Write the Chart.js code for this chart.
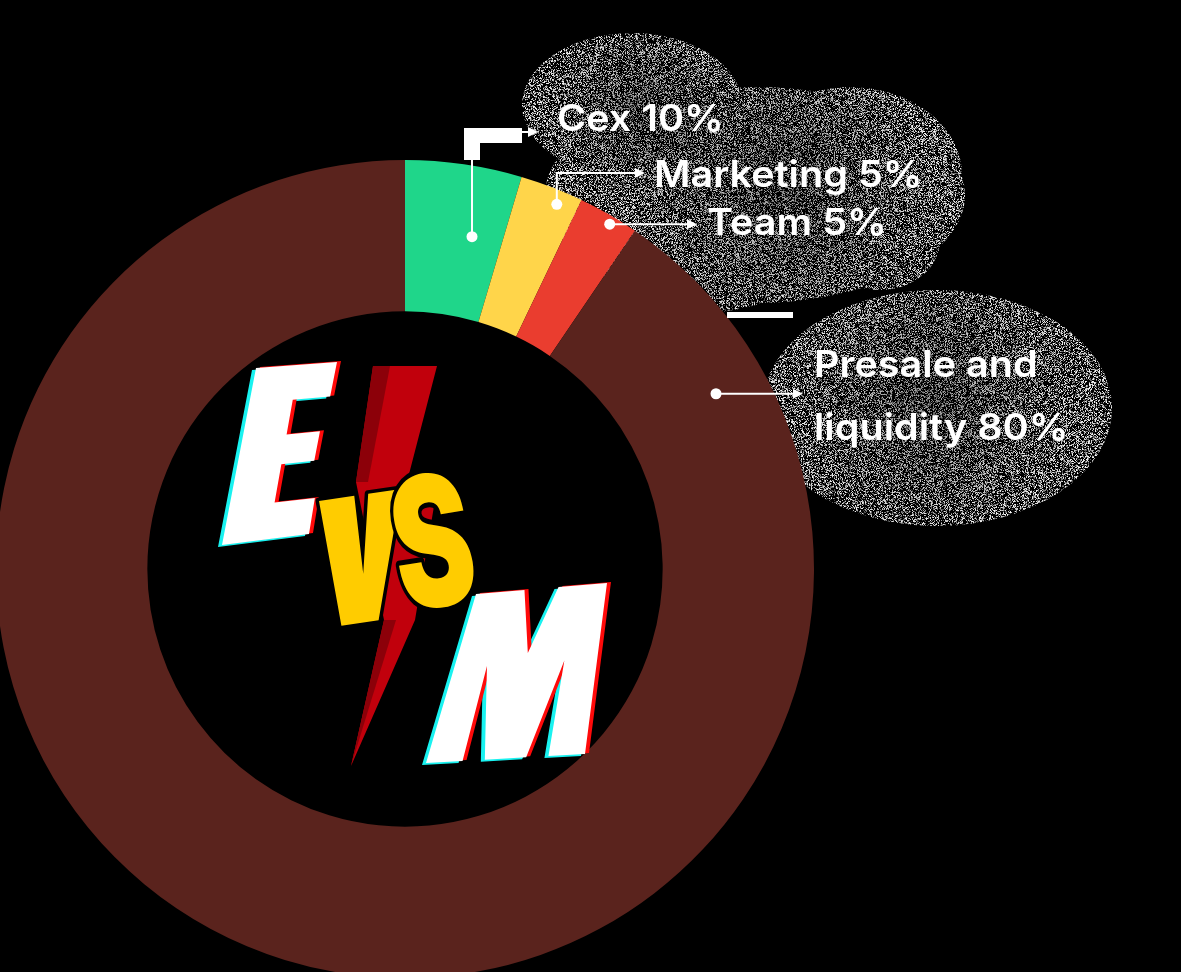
<!DOCTYPE html>
<html><head><meta charset="utf-8">
<script src="https://cdn.jsdelivr.net/npm/chart.js@4/dist/chart.umd.min.js"></script>
<style>html,body{margin:0;padding:0;background:#000;overflow:hidden;}canvas{display:block;}</style>
</head><body>
<canvas id="c" width="1181" height="972"></canvas>
<script>
// ---- data ----
const categories = ['Cex', 'Marketing', 'Team', 'Presale and liquidity'];
const labelPercents = ['10%', '5%', '5%', '80%'];
const sliceShares = [4.6, 2.5, 2.4, 90.5];          // share of the ring each slice occupies (%)
const sliceColors = ['#1FD68A', '#FFD54A', '#EA3D2F', '#5A231D'];

// ---- annotation layout (polar anchor on the ring, elbow, arrow tip, text) ----
const annAngle = [11.4, 22.6, 30.7, 60.6];            // degrees clockwise from top
const annRadius = [339, 395, 401, 357];
const annElbowY = [132, 173, null, null];
const annTipX = [538, 645, 697, 803];
const annTextX = [557, 654, 707, 814];
const annBaseY = [[131], [187], [235], [377, 440]];
const annLines = [
  [categories[0] + ' ' + labelPercents[0]],
  [categories[1] + ' ' + labelPercents[1]],
  [categories[2] + ' ' + labelPercents[2]],
  ['Presale and', 'liquidity ' + labelPercents[3]]
];

function hash(x, y) {
  let n = (Math.imul(x, 374761393) + Math.imul(y, 668265263)) | 0;
  n = Math.imul(n ^ (n >>> 13), 1274126177);
  n = n ^ (n >>> 16);
  return (n >>> 0) / 4294967296;
}

function makeNoise(x0, y0, w, h) {
  const cv = document.createElement('canvas');
  cv.width = w; cv.height = h;
  const c = cv.getContext('2d');
  const img = c.createImageData(w, h);
  for (let y = 0; y < h; y++) for (let x = 0; x < w; x++) {
    const p = hash(x + x0, y + y0), q = hash(y + 7919, x + 104729);
    let v;
    if (p < 0.50) v = 0;
    else if (p < 0.74) v = 60 + Math.floor(q * 90);
    else v = 175 + Math.floor(q * 80);
    const i = (y * w + x) * 4;
    img.data[i] = img.data[i + 1] = img.data[i + 2] = v; img.data[i + 3] = 255;
  }
  c.putImageData(img, 0, 0);
  return cv;
}

const clouds = [
  [632, 105, 110, 72],
  [755, 195, 210, 108],
  [850, 175, 112, 88],
  [880, 240, 60, 50],
  [700, 265, 100, 48],
  [937, 408, 175, 118]
];
const cloudShade = [[640, 110, 90], [780, 190, 150], [930, 400, 140]];

const bgPlugin = {
  id: 'bg',
  beforeDraw(chart) {
    const ctx = chart.ctx;
    ctx.save();
    ctx.fillStyle = '#000';
    ctx.fillRect(0, 0, chart.width, chart.height);
    const nx = 510, ny = 28;
    const noise = makeNoise(nx, ny, 610, 510);
    ctx.beginPath();
    clouds.forEach(([cx, cy, rx, ry]) => { ctx.moveTo(cx + rx, cy); ctx.ellipse(cx, cy, rx, ry, 0, 0, Math.PI * 2); });
    ctx.clip();
    ctx.drawImage(noise, nx, ny);
    cloudShade.forEach(([x, y, r]) => {
      const g = ctx.createRadialGradient(x, y, 0, x, y, r);
      g.addColorStop(0, 'rgba(0,0,0,0.35)');
      g.addColorStop(1, 'rgba(0,0,0,0)');
      ctx.fillStyle = g;
      ctx.fillRect(x - r, y - r, 2 * r, 2 * r);
    });
    ctx.restore();
  }
};

function quadMap(q, u, v) {
  const bx = q.bl[0] + (q.br[0] - q.bl[0]) * u, by = q.bl[1] + (q.br[1] - q.bl[1]) * u;
  const tx = q.tl[0] + (q.tr[0] - q.tl[0]) * u, ty = q.tl[1] + (q.tr[1] - q.tl[1]) * u;
  return [bx + (tx - bx) * v, by + (ty - by) * v];
}
function polyPath(ctx, q, pts, dx, dy) {
  ctx.beginPath();
  pts.forEach(([u, v], i) => {
    const [x, y] = quadMap(q, u, v);
    if (i === 0) ctx.moveTo(x + dx, y + dy); else ctx.lineTo(x + dx, y + dy);
  });
  ctx.closePath();
}
function glitchLetter(ctx, q, pts) {
  polyPath(ctx, q, pts, -4, 2); ctx.fillStyle = '#19F2F0'; ctx.fill();
  polyPath(ctx, q, pts, 4, -1); ctx.fillStyle = '#FF0A0A'; ctx.fill();
  polyPath(ctx, q, pts, 0, 0); ctx.fillStyle = '#FFFFFF'; ctx.fill();
}

const E_PTS = [[0,0],[0,1],[1,1],[0.985,0.8],[0.53,0.8],[0.53,0.6],[0.93,0.6],[0.92,0.43],[0.53,0.43],[0.53,0.21],[1,0.21],[1,0]];
const M_PTS = [[0,0],[0,1],[0.37,1],[0.5,0.62],[0.63,1],[1,1],[1,0],[0.77,0],[0.77,0.56],[0.63,0],[0.37,0],[0.23,0.56],[0.23,0]];
const V_PTS = [[0.14,0],[0,1],[0.43,1],[0.52,0.38],[0.6,1],[1,1],[0.76,0]];

function drawLogo(ctx) {
  ctx.save();
  ctx.fillStyle = '#C1000C';
  ctx.beginPath();
  ctx.moveTo(373, 366); ctx.lineTo(437, 366); ctx.lineTo(408, 478); ctx.lineTo(440, 470);
  ctx.lineTo(415, 620); ctx.lineTo(351, 766); ctx.lineTo(384, 620); ctx.lineTo(356, 482);
  ctx.closePath(); ctx.fill();
  ctx.fillStyle = '#8C0009';
  ctx.beginPath();
  ctx.moveTo(373, 366); ctx.lineTo(390, 366); ctx.lineTo(368, 482); ctx.lineTo(356, 482); ctx.closePath(); ctx.fill();
  ctx.beginPath();
  ctx.moveTo(384, 620); ctx.lineTo(396, 620); ctx.lineTo(351, 766); ctx.closePath(); ctx.fill();

  glitchLetter(ctx, {bl: [222, 545], br: [309, 534], tl: [256, 368], tr: [337, 362]}, E_PTS);
  const vq = {bl: [333, 627], br: [393, 618], tl: [319, 501], tr: [401, 489]};
  polyPath(ctx, vq, V_PTS, 0, 0);
  ctx.lineJoin = 'round'; ctx.lineWidth = 7; ctx.strokeStyle = '#000'; ctx.stroke();
  ctx.fillStyle = '#FFCC00'; ctx.fill();
  ctx.save();
  ctx.translate(433, 546);
  ctx.rotate(-9 * Math.PI / 180);
  ctx.scale(0.66, 1);
  ctx.font = '900 182px Inter, "DejaVu Sans", sans-serif';
  ctx.textAlign = 'center'; ctx.textBaseline = 'middle';
  ctx.lineWidth = 10; ctx.strokeStyle = '#000'; ctx.lineJoin = 'round';
  ctx.strokeText('S', 0, 6);
  ctx.fillStyle = '#FFCC00';
  ctx.fillText('S', 0, 6);
  ctx.restore();
  glitchLetter(ctx, {bl: [426, 763], br: [585, 754], tl: [476, 594], tr: [607, 583]}, M_PTS);
  ctx.restore();
}

const annPlugin = {
  id: 'ann',
  afterDraw(chart) {
    const ctx = chart.ctx;
    const arc = chart.getDatasetMeta(0).data[0];
    const cx = arc.x, cy = arc.y;
    drawLogo(ctx);
    ctx.save();
    ctx.fillStyle = '#FFFFFF';
    ctx.fillRect(464, 128, 58, 15);
    ctx.fillRect(464, 128, 16, 32);
    ctx.fillRect(727, 312, 66, 6);

    ctx.strokeStyle = '#FFFFFF'; ctx.fillStyle = '#FFFFFF'; ctx.lineWidth = 2;
    for (let i = 0; i < categories.length; i++) {
      const a = annAngle[i] * Math.PI / 180;
      const dx = cx + annRadius[i] * Math.sin(a), dy = cy - annRadius[i] * Math.cos(a);
      const ly = annElbowY[i] === null ? dy : annElbowY[i];
      ctx.beginPath();
      ctx.moveTo(dx, dy);
      if (annElbowY[i] !== null) ctx.lineTo(dx, ly);
      ctx.lineTo(annTipX[i] - 6, ly);
      ctx.stroke();
      ctx.beginPath();
      ctx.moveTo(annTipX[i], ly); ctx.lineTo(annTipX[i] - 10, ly - 5); ctx.lineTo(annTipX[i] - 10, ly + 5); ctx.closePath(); ctx.fill();
      ctx.beginPath(); ctx.arc(dx, dy, 5.5, 0, Math.PI * 2); ctx.fill();
      ctx.font = '600 37px Inter, "Open Sans", sans-serif';
      ctx.textAlign = 'left'; ctx.textBaseline = 'alphabetic';
      annLines[i].forEach((t, j) => {
        ctx.save();
        ctx.translate(annTextX[i], annBaseY[i][j]);
        ctx.scale(1.07, 1);
        ctx.fillText(t, 0, 0);
        ctx.restore();
      });
    }
    ctx.restore();
  }
};

new Chart(document.getElementById('c'), {
  type: 'doughnut',
  data: {
    labels: categories,
    datasets: [{
      data: sliceShares,
      backgroundColor: sliceColors,
      borderWidth: 0,
      radius: 409,
      cutout: '63%'
    }]
  },
  options: {
    responsive: false,
    animation: false,
    layout: { padding: { left: 0, right: 371, top: 166, bottom: 0 } },
    plugins: { legend: { display: false }, tooltip: { enabled: false } }
  },
  plugins: [bgPlugin, annPlugin]
});
</script>
</body></html>
